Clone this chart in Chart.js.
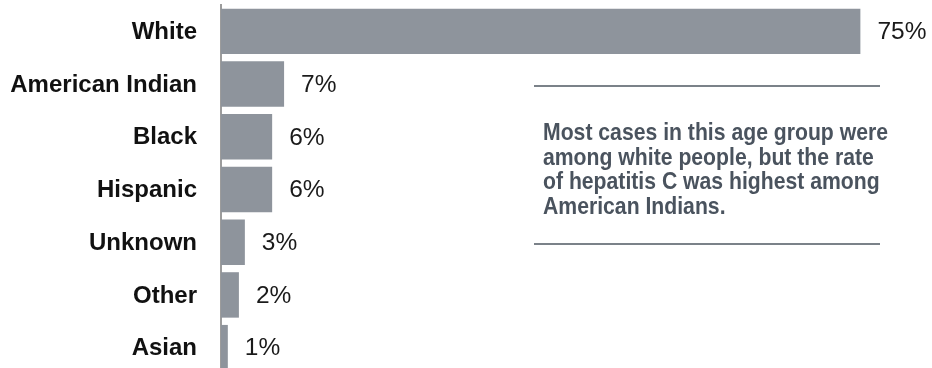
<!DOCTYPE html>
<html>
<head>
<meta charset="utf-8">
<script src="https://cdn.jsdelivr.net/npm/chart.js@4.4.1/dist/chart.umd.min.js"></script>
<style>
    html, body { margin: 0; padding: 0; background: #fff; overflow: hidden; }
    #wrap { width: 932px; height: 374px; }
</style>
</head>
<body>
<div id="wrap"><canvas id="chart" width="932" height="374"></canvas></div>
<script>
// Share of cases by race/ethnicity
const categories = ['White', 'American Indian', 'Black', 'Hispanic', 'Unknown', 'Other', 'Asian'];
const shares = [75, 7.4, 6, 6, 2.8, 2.1, 0.8];
const shareLabels = ['75%', '7%', '6%', '6%', '3%', '2%', '1%'];
const noteLines = [
    'Most cases in this age group were',
    'among white people, but the rate',
    'of hepatitis C was highest among',
    'American Indians.'
];

const BAR_COLOR = '#8e949c';
const FONT = '"Liberation Sans", Arial, sans-serif';

/**
 * Category names and percent labels beside the bars
 * (drawn by hand so the axis does not add label padding at top/bottom)
 */
const barLabels = {
    id: 'barLabels',
    afterDatasetsDraw(chart) {
        const ctx = chart.ctx;
        const yScale = chart.scales.y;
        const meta = chart.getDatasetMeta(0);
        ctx.save();
        ctx.textBaseline = 'middle';

        // category names, right aligned before the axis line
        ctx.font = 'bold 24px ' + FONT;
        ctx.fillStyle = '#111';
        ctx.textAlign = 'right';
        categories.forEach((name, i) => {
            ctx.fillText(name, yScale.right - 24, yScale.getPixelForTick(i) + 1);
        });

        // percent after each bar
        ctx.font = '24.5px ' + FONT;
        ctx.fillStyle = '#1a1a1a';
        ctx.textAlign = 'left';
        meta.data.forEach((bar, i) => {
            ctx.fillText(shareLabels[i], bar.x + 17, bar.y + 1);
        });
        ctx.restore();
    }
};

/**
 * Side note with a rule above and below
 */
const sideNote = {
    id: 'sideNote',
    afterDraw(chart) {
        const ctx = chart.ctx;
        ctx.save();
        ctx.strokeStyle = '#4f5862';
        ctx.lineWidth = 1.5;
        [86, 244].forEach(y => {
            ctx.beginPath();
            ctx.moveTo(534, y);
            ctx.lineTo(880, y);
            ctx.stroke();
        });

        ctx.font = 'bold 24px ' + FONT;
        ctx.fillStyle = '#4a535e';
        ctx.textAlign = 'left';
        ctx.textBaseline = 'alphabetic';
        // the source face is narrower than Arial, so squeeze to the same line length
        const squeeze = 345 / ctx.measureText(noteLines[0]).width;
        noteLines.forEach((line, i) => {
            ctx.save();
            ctx.translate(543, 140 + i * 24.5);
            ctx.scale(squeeze, 1);
            ctx.fillText(line, 0, 0);
            ctx.restore();
        });
        ctx.restore();
    }
};

document.addEventListener('DOMContentLoaded', function() {
    const ctx = document.getElementById('chart').getContext('2d');
    new Chart(ctx, {
        type: 'bar',
        data: {
            labels: categories,
            datasets: [{
                data: shares,
                backgroundColor: BAR_COLOR,
                borderWidth: 0,
                categoryPercentage: 1,
                barPercentage: 0.862
            }]
        },
        options: {
            indexAxis: 'y',
            responsive: false,
            animation: false,
            layout: { padding: { top: 5, right: 29, bottom: 0, left: 0 } },
            plugins: {
                legend: { display: false },
                tooltip: { enabled: false }
            },
            scales: {
                x: {
                    display: false,
                    min: 0,
                    max: 80
                },
                y: {
                    grid: { display: false, drawTicks: false },
                    border: { display: true, color: '#9c9c9c', width: 2 },
                    ticks: { display: false },
                    afterFit(scale) {
                        scale.width = 221;
                    }
                }
            }
        },
        plugins: [barLabels, sideNote]
    });
});
</script>
</body>
</html>
